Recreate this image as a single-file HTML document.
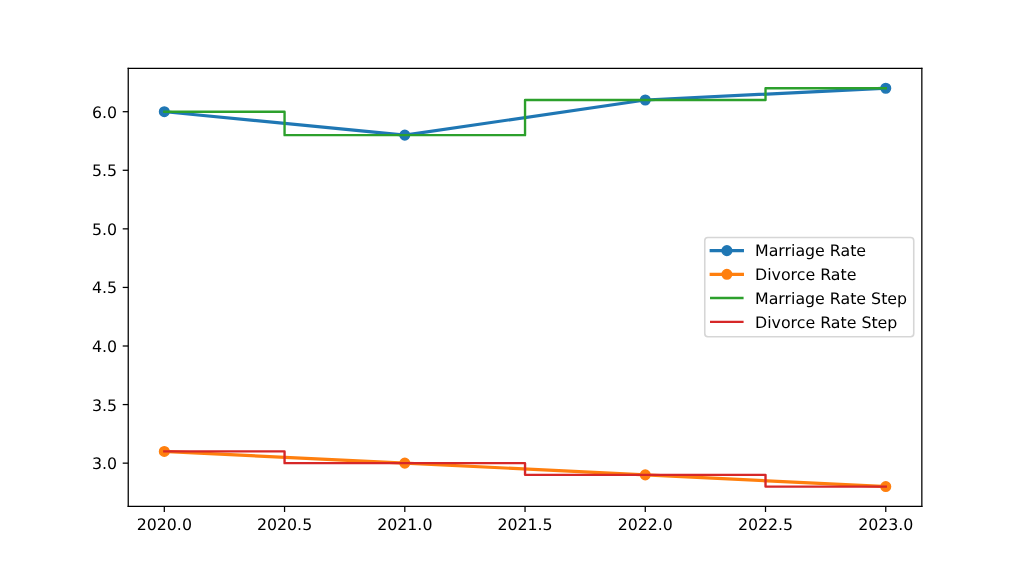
<!DOCTYPE html>
<html lang="en">
<head>
<meta charset="utf-8">
<title>Marriage and Divorce Rate</title>
<style>
html,body{margin:0;padding:0;background:#ffffff;}
body{width:1024px;height:569px;overflow:hidden;}
svg{display:block;position:absolute;left:0;top:0;}
svg text{font-family:"DejaVu Sans","Liberation Sans",sans-serif;font-size:15.8px;fill:#000000;text-rendering:geometricPrecision;}
.tick{stroke:#000000;stroke-width:1.264;fill:none;}
.spine{stroke:#000000;stroke-width:1.264;fill:none;stroke-linecap:square;stroke-linejoin:miter;}
.l1{fill:none;stroke:#1f77b4;stroke-width:3.16;stroke-linecap:square;stroke-linejoin:round;}
.l2{fill:none;stroke:#ff7f0e;stroke-width:3.16;stroke-linecap:square;stroke-linejoin:round;}
.l3{fill:none;stroke:#2ca02c;stroke-width:2.37;stroke-linecap:square;stroke-linejoin:round;}
.l4{fill:none;stroke:#d62728;stroke-width:2.37;stroke-linecap:square;stroke-linejoin:round;}
.m1{fill:#1f77b4;stroke:#1f77b4;stroke-width:1.58;}
.m2{fill:#ff7f0e;stroke:#ff7f0e;stroke-width:1.58;}
</style>
</head>
<body>
<svg width="1024" height="569" viewBox="0 0 1024 569">
<rect x="0" y="0" width="1024" height="569" fill="#ffffff"/>
<g>
<line class="tick" x1="164.31" y1="506.49" x2="164.31" y2="512.02"/>
<text x="164.31" y="530.0" text-anchor="middle">2020.0</text>
<line class="tick" x1="284.56" y1="506.49" x2="284.56" y2="512.02"/>
<text x="284.56" y="530.0" text-anchor="middle">2020.5</text>
<line class="tick" x1="404.8" y1="506.49" x2="404.8" y2="512.02"/>
<text x="404.8" y="530.0" text-anchor="middle">2021.0</text>
<line class="tick" x1="525.04" y1="506.49" x2="525.04" y2="512.02"/>
<text x="525.04" y="530.0" text-anchor="middle">2021.5</text>
<line class="tick" x1="645.28" y1="506.49" x2="645.28" y2="512.02"/>
<text x="645.28" y="530.0" text-anchor="middle">2022.0</text>
<line class="tick" x1="765.52" y1="506.49" x2="765.52" y2="512.02"/>
<text x="765.52" y="530.0" text-anchor="middle">2022.5</text>
<line class="tick" x1="885.77" y1="506.49" x2="885.77" y2="512.02"/>
<text x="885.77" y="530.0" text-anchor="middle">2023.0</text>
</g>
<g>
<line class="tick" x1="128.24" y1="463.15" x2="122.71" y2="463.15"/>
<text x="117.17" y="469.15" text-anchor="end">3.0</text>
<line class="tick" x1="128.24" y1="404.57" x2="122.71" y2="404.57"/>
<text x="117.17" y="410.57" text-anchor="end">3.5</text>
<line class="tick" x1="128.24" y1="346.0" x2="122.71" y2="346.0"/>
<text x="117.17" y="352.0" text-anchor="end">4.0</text>
<line class="tick" x1="128.24" y1="287.43" x2="122.71" y2="287.43"/>
<text x="117.17" y="293.43" text-anchor="end">4.5</text>
<line class="tick" x1="128.24" y1="228.85" x2="122.71" y2="228.85"/>
<text x="117.17" y="234.85" text-anchor="end">5.0</text>
<line class="tick" x1="128.24" y1="170.28" x2="122.71" y2="170.28"/>
<text x="117.17" y="176.28" text-anchor="end">5.5</text>
<line class="tick" x1="128.24" y1="111.7" x2="122.71" y2="111.7"/>
<text x="117.17" y="117.7" text-anchor="end">6.0</text>
</g>
<polyline class="l1" points="164.31,111.7 404.8,135.13 645.28,99.99 885.77,88.27"/>
<circle class="m1" cx="164.31" cy="111.7" r="4.74"/>
<circle class="m1" cx="404.8" cy="135.13" r="4.74"/>
<circle class="m1" cx="645.28" cy="99.99" r="4.74"/>
<circle class="m1" cx="885.77" cy="88.27" r="4.74"/>
<polyline class="l2" points="164.31,451.43 404.8,463.15 645.28,474.86 885.77,486.57"/>
<circle class="m2" cx="164.31" cy="451.43" r="4.74"/>
<circle class="m2" cx="404.8" cy="463.15" r="4.74"/>
<circle class="m2" cx="645.28" cy="474.86" r="4.74"/>
<circle class="m2" cx="885.77" cy="486.57" r="4.74"/>
<polyline class="l3" points="164.31,111.7 284.56,111.7 284.56,135.13 525.04,135.13 525.04,99.99 765.52,99.99 765.52,88.27 885.77,88.27"/>
<polyline class="l4" points="164.31,451.43 284.56,451.43 284.56,463.15 525.04,463.15 525.04,474.86 765.52,474.86 765.52,486.57 885.77,486.57"/>
<path class="spine" d="M128.24 506.49L128.24 68.36"/>
<path class="spine" d="M921.84 506.49L921.84 68.36"/>
<path class="spine" d="M128.24 506.49L921.84 506.49"/>
<path class="spine" d="M128.24 68.36L921.84 68.36"/>
<g>
<rect x="704.75" y="237.5" width="209.0" height="99.25" rx="3.16" ry="3.16" fill="#ffffff" stroke="#cccccc" stroke-width="1.58" opacity="0.8"/>
<line class="l1" x1="711.2" y1="250.65" x2="742.4" y2="250.65"/>
<circle class="m1" cx="726.9" cy="250.65" r="4.74"/>
<text x="755.0" y="256" text-anchor="start">Marriage Rate</text>
<line class="l2" x1="711.2" y1="274.3" x2="742.4" y2="274.3"/>
<circle class="m2" cx="726.9" cy="274.3" r="4.74"/>
<text x="755.0" y="280" text-anchor="start">Divorce Rate</text>
<line class="l3" x1="711.2" y1="298.0" x2="742.4" y2="298.0"/>
<text x="755.0" y="304" text-anchor="start">Marriage Rate Step</text>
<line class="l4" x1="711.2" y1="321.9" x2="742.4" y2="321.9"/>
<text x="755.0" y="328" text-anchor="start">Divorce Rate Step</text>
</g>
</svg>
</body>
</html>
